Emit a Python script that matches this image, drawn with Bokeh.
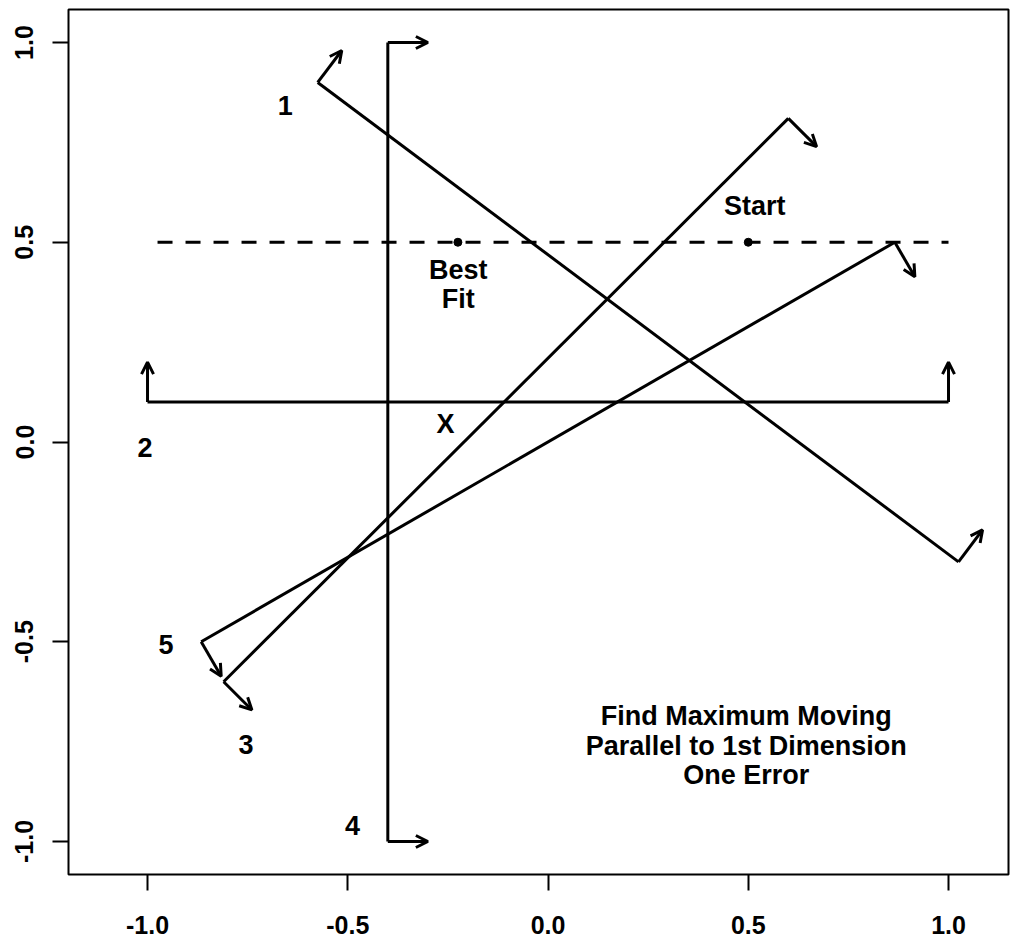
from bokeh.plotting import figure
from bokeh.models import (ColumnDataSource, Arrow, OpenHead, FixedTicker, Range1d)
from bokeh.core.properties import value
from bokeh.embed import file_html
from bokeh.resources import INLINE

# Cutting lines: end points of each line
cut_id = ["1", "2", "3", "4", "5"]
cut_x0 = [-0.575, -1.0, -0.81, -0.40, -0.866]
cut_y0 = [0.90, 0.10, -0.60, -1.00, -0.50]
cut_x1 = [1.025, 1.0, 0.60, -0.40, 0.866]
cut_y1 = [-0.30, 0.10, 0.81, 1.00, 0.50]
# Normal vectors (direction of the "yea" side) drawn at each end
norm_dx = [0.06, 0.0, 0.0707, 0.10, 0.05]
norm_dy = [0.08, 0.10, -0.0707, 0.0, -0.0866]

# Labels for the cutting lines
cut_label_x = [-0.656, -1.006, -0.754, -0.488, -0.954]
cut_label_y = [0.843, -0.015, -0.758, -0.959, -0.506]

# Search path parallel to the first dimension
path_x = [-0.975, 1.0]
path_y = [0.5, 0.5]

# Start point and best-fit point
pt_x = [-0.225, 0.5]
pt_y = [0.5, 0.5]

# Annotation texts
note_x = [0.516, -0.224, -0.224, -0.256]
note_y = [0.591, 0.430, 0.359, 0.046]
note_text = ["Start", "Best", "Fit", "X"]

title_x = [0.495, 0.495, 0.495]
title_y = [-0.686, -0.761, -0.834]
title_text = ["Find Maximum Moving", "Parallel to 1st Dimension", "One Error"]

ticks = [-1.0, -0.5, 0.0, 0.5, 1.0]
tick_labels = ["-1.0", "-0.5", "0.0", "0.5", "1.0"]

FONT = value("Liberation Sans")

p = figure(width=1018, height=944, output_backend="svg", toolbar_location=None,
           x_range=Range1d(-1.1973, 1.1498), y_range=Range1d(-1.0826, 1.0826),
           min_border_left=68, min_border_right=10, min_border_top=9,
           min_border_bottom=70)
p.background_fill_color = "white"
p.border_fill_color = "white"
p.outline_line_color = "black"
p.outline_line_width = 2
p.grid.visible = False

for ax in (p.xaxis[0], p.yaxis[0]):
    ax.ticker = FixedTicker(ticks=ticks)
    ax.major_label_overrides = dict(zip(ticks, tick_labels))
    ax.axis_line_color = None
    ax.major_tick_in = 0
    ax.major_tick_out = 16
    ax.major_tick_line_width = 2
    ax.major_tick_line_color = "black"
    ax.minor_tick_line_color = None
    ax.major_label_text_font = "Liberation Sans"
    ax.major_label_text_font_style = "bold"
    ax.major_label_text_font_size = "25px"
    ax.major_label_text_color = "black"
p.xaxis[0].major_label_standoff = 25
p.yaxis[0].major_label_standoff = 19
p.yaxis[0].major_label_orientation = "vertical"

# cutting lines
p.segment(x0=cut_x0, y0=cut_y0, x1=cut_x1, y1=cut_y1,
          line_color="black", line_width=3)

# normal-vector arrows at both ends of every cutting line
ax_start = cut_x0 + cut_x1
ay_start = cut_y0 + cut_y1
ax_end = [x + dx for x, dx in zip(cut_x0, norm_dx)] + [x + dx for x, dx in zip(cut_x1, norm_dx)]
ay_end = [y + dy for y, dy in zip(cut_y0, norm_dy)] + [y + dy for y, dy in zip(cut_y1, norm_dy)]
arrow_src = ColumnDataSource(dict(xs=ax_start, ys=ay_start, xe=ax_end, ye=ay_end))
p.add_layout(Arrow(source=arrow_src, x_start="xs", y_start="ys", x_end="xe", y_end="ye",
                   line_width=3, line_color="black",
                   end=OpenHead(size=12, line_width=3, line_color="black")))

# dashed search path
p.line(path_x, path_y, line_color="black", line_width=3, line_dash="15 13")
p.scatter(pt_x, pt_y, size=8, color="black")

text_kw = dict(text_font=FONT, text_font_style="bold", text_font_size="27px",
               text_align="center", text_baseline="middle", text_color="black")
p.text(x=cut_label_x, y=cut_label_y, text=cut_id, **text_kw)
p.text(x=note_x, y=note_y, text=note_text, **text_kw)
p.text(x=title_x, y=title_y, text=title_text, **text_kw)

open("out.html", "w").write(file_html(p, INLINE))
